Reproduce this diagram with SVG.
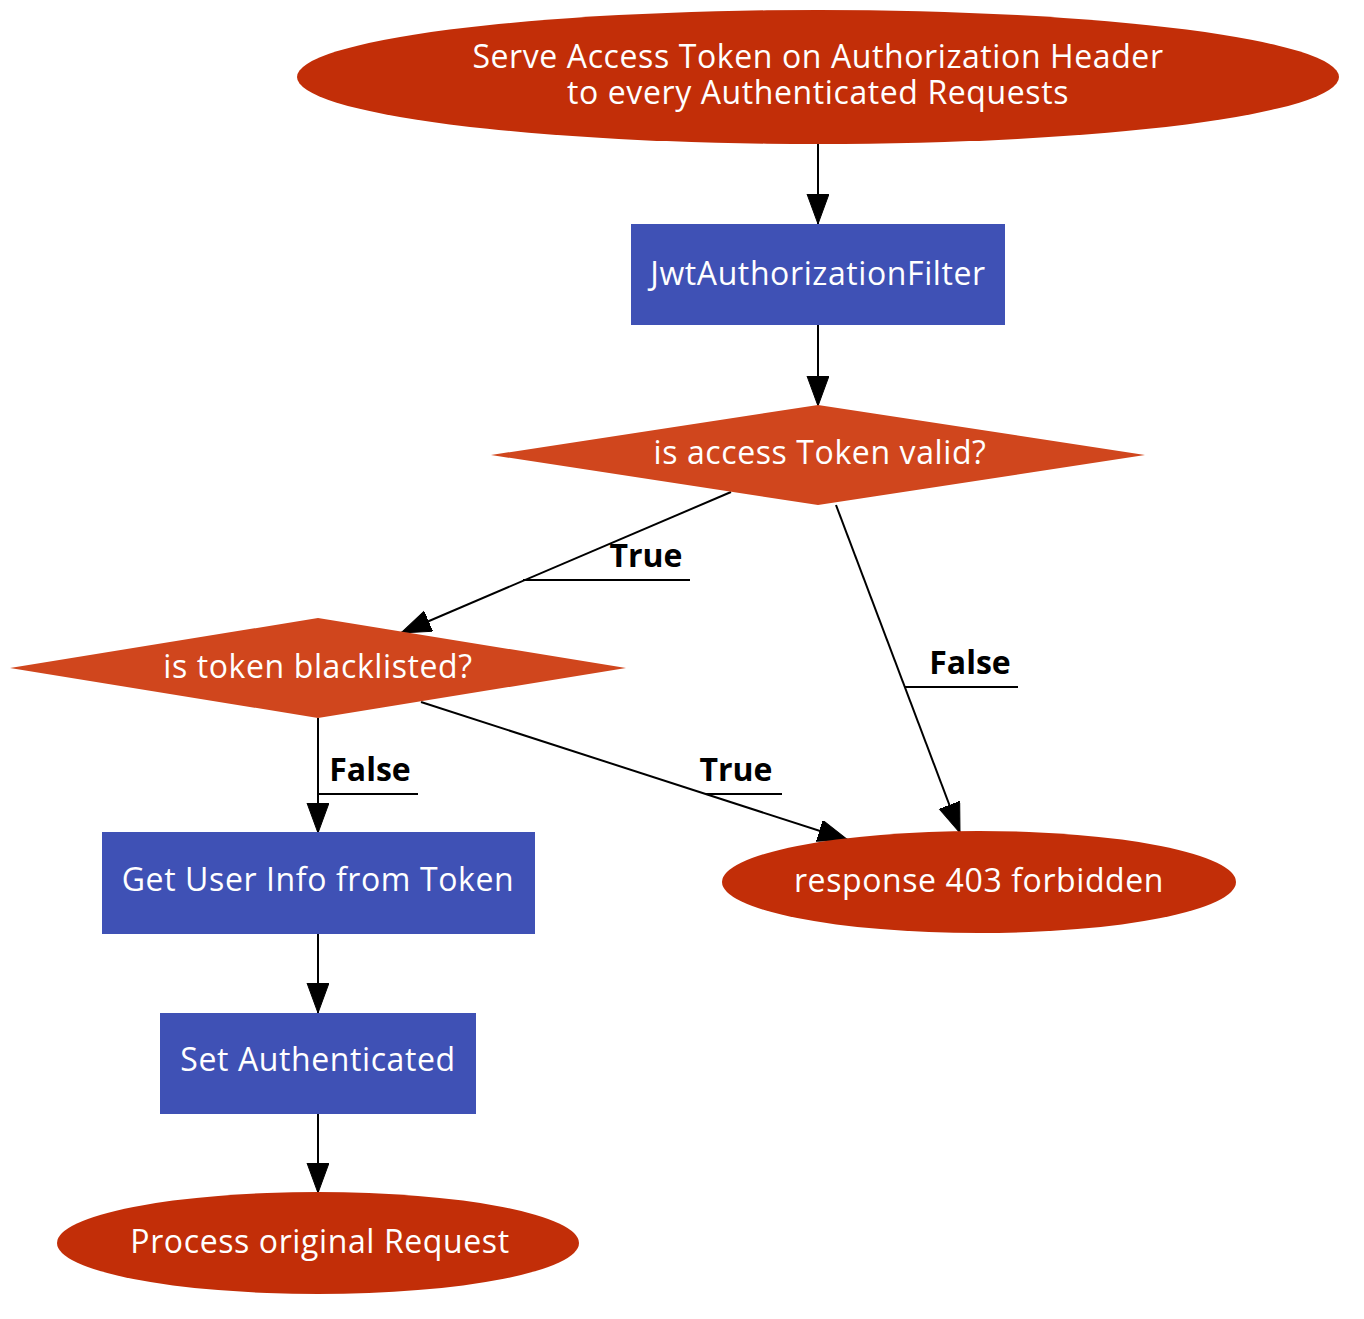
<svg xmlns="http://www.w3.org/2000/svg" width="1364" height="1319" viewBox="0 0 1364 1319">
<defs>
<style>
.ell{fill:#c22e08;stroke:none}
.box{fill:#3f51b5;stroke:none}
.dia{fill:#d0461d;stroke:none}
.nt{font-family:"Open Sans","Noto Sans",sans-serif;font-size:32px;letter-spacing:0.6px;fill:#ffffff;text-anchor:middle}
.el{stroke:#000;stroke-width:2;fill:none}
.lb{font-family:"Open Sans","Noto Sans",sans-serif;font-weight:bold;font-size:32px;fill:#000;text-anchor:middle}
.ul{stroke:#000;stroke-width:2}
</style>
<marker id="arr" markerUnits="userSpaceOnUse" markerWidth="32" markerHeight="24" refX="30" refY="11" orient="auto">
<polygon points="0,0 30,11 0,22" fill="#000" stroke="#000" stroke-width="1"/>
</marker>
</defs>
<rect width="1364" height="1319" fill="#fff"/>
<g id="connectors">
<line class="el" x1="818" y1="144" x2="818" y2="224" marker-end="url(#arr)"/>
<line class="el" x1="818" y1="325" x2="818" y2="406" marker-end="url(#arr)"/>
<line class="el" x1="731" y1="492" x2="401" y2="633" marker-end="url(#arr)"/>
<line class="el" x1="836" y1="505" x2="960" y2="833" marker-end="url(#arr)"/>
<line class="el" x1="318" y1="718" x2="318" y2="833" marker-end="url(#arr)"/>
<line class="el" x1="421" y1="702" x2="848" y2="840" marker-end="url(#arr)"/>
<line class="el" x1="318" y1="934" x2="318" y2="1013" marker-end="url(#arr)"/>
<line class="el" x1="318" y1="1114" x2="318" y2="1193" marker-end="url(#arr)"/>
<text class="lb" x="646" y="567">True</text>
<line class="ul" x1="523" y1="580" x2="690" y2="580"/>
<text class="lb" x="970" y="674">False</text>
<line class="ul" x1="905" y1="687" x2="1018" y2="687"/>
<text class="lb" x="370" y="781">False</text>
<line class="ul" x1="318" y1="794" x2="418" y2="794"/>
<text class="lb" x="736" y="781">True</text>
<line class="ul" x1="706" y1="794" x2="782" y2="794"/>
</g>
<g id="serve">
<ellipse class="ell" cx="818" cy="77" rx="521" ry="67"/>
<text class="nt" x="818" y="68">Serve Access Token on Authorization Header</text>
<text class="nt" x="818" y="104">to every Authenticated Requests</text>
</g>
<g id="filter">
<rect class="box" x="631" y="224" width="374" height="101"/>
<text class="nt" x="818" y="285">JwtAuthorizationFilter</text>
</g>
<g id="valid">
<polygon class="dia" points="818,405 1145,455 818,505 491,455"/>
<text class="nt" x="820" y="464">is access Token valid?</text>
</g>
<g id="blacklisted">
<polygon class="dia" points="318,618 626,668 318,718 10,668"/>
<text class="nt" x="318" y="678">is token blacklisted?</text>
</g>
<g id="forbidden">
<ellipse class="ell" cx="979" cy="882" rx="257" ry="51"/>
<text class="nt" x="979" y="892">response 403 forbidden</text>
</g>
<g id="userinfo">
<rect class="box" x="102" y="832" width="433" height="102"/>
<text class="nt" x="318" y="891">Get User Info from Token</text>
</g>
<g id="setauth">
<rect class="box" x="160" y="1013" width="316" height="101"/>
<text class="nt" x="318" y="1071">Set Authenticated</text>
</g>
<g id="process">
<ellipse class="ell" cx="318" cy="1243" rx="261" ry="51"/>
<text class="nt" x="320" y="1253">Process original Request</text>
</g>
</svg>
